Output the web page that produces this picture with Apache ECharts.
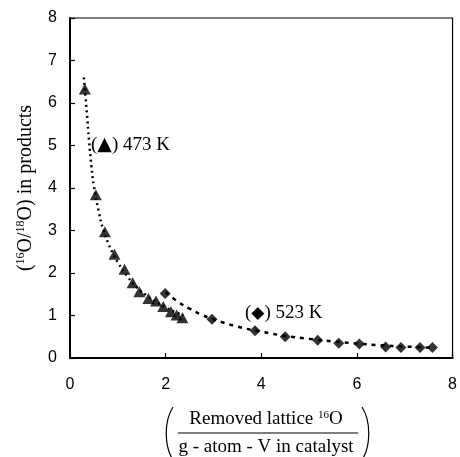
<!DOCTYPE html>
<html>
<head>
<meta charset="utf-8">
<script src="https://cdn.jsdelivr.net/npm/echarts@6/dist/echarts.min.js"></script>
<style>
  html, body { margin: 0; padding: 0; background: #ffffff; }
  #chart { width: 460px; height: 457px; }
</style>
</head>
<body>
<div id="chart"></div>
<script>
// Oxygen isotope ratio in products vs. removed lattice 16O per g-atom V
const tri473X = [0.31, 0.54, 0.73, 0.93, 1.14, 1.31, 1.45, 1.64, 1.80, 1.95, 2.11, 2.23, 2.35];
const tri473Y = [6.33, 3.84, 2.97, 2.44, 2.09, 1.77, 1.56, 1.40, 1.34, 1.21, 1.09, 1.01, 0.95];

const dia523X = [1.99, 2.97, 3.87, 4.50, 5.18, 5.62, 6.05, 6.60, 6.92, 7.32, 7.58];
const dia523Y = [1.52, 0.91, 0.64, 0.50, 0.42, 0.35, 0.33, 0.26, 0.25, 0.25, 0.25];

// dotted trend curves
const fit473X = [0.29, 0.35, 0.40, 0.45, 0.50, 0.60, 0.70, 0.80, 0.90, 1.00, 1.20, 1.40, 1.60, 1.80, 2.00, 2.20, 2.37];
const fit473Y = [6.60, 5.80, 5.10, 4.50, 4.05, 3.45, 3.00, 2.70, 2.45, 2.25, 1.92, 1.66, 1.47, 1.32, 1.19, 1.08, 1.00];
const fit523X = [2.00, 2.25, 2.50, 2.75, 3.00, 3.50, 4.00, 4.50, 5.00, 5.50, 6.00, 6.50, 7.00, 7.60];
const fit523Y = [1.55, 1.33, 1.16, 1.02, 0.91, 0.74, 0.62, 0.52, 0.45, 0.39, 0.34, 0.30, 0.27, 0.24];

const xTicks = { min: 0, max: 8, step: 2 };
const yTicks = { min: 0, max: 8, step: 1 };

const label473 = { text: ') 473 K', at: [0.44, 5.0], glyph: '▲' };
const label523 = { text: ') 523 K', at: [3.66, 1.05], glyph: '◆' };

const zip = (xs, ys) => xs.map((x, i) => [x, ys[i]]);

const serif = '"Liberation Serif", "Times New Roman", serif';
const sans = '"Liberation Sans", Arial, sans-serif';

const chart = echarts.init(document.getElementById('chart'));

const grid = { left: 70, top: 18, right: 4, bottom: 99 };

chart.setOption({
  animation: false,
  backgroundColor: '#ffffff',
  grid: Object.assign({ show: true, borderColor: '#000', borderWidth: 1.2, containLabel: false }, grid),
  xAxis: {
    type: 'value',
    min: xTicks.min, max: xTicks.max, interval: xTicks.step,
    axisLine: { lineStyle: { color: '#000', width: 2 } },
    axisTick: { inside: true, length: 5, lineStyle: { color: '#000', width: 1.2 } },
    axisLabel: { color: '#000', fontFamily: sans, fontSize: 16, margin: 19 },
    splitLine: { show: false }
  },
  yAxis: {
    type: 'value',
    min: yTicks.min, max: yTicks.max, interval: yTicks.step,
    axisLine: { lineStyle: { color: '#000', width: 2 } },
    axisTick: { inside: true, length: 5, lineStyle: { color: '#000', width: 1.2 } },
    axisLabel: { color: '#000', fontFamily: sans, fontSize: 16, margin: 13 },
    splitLine: { show: false },
    name: '({sup|16}O/{sup|18}O) in products',
    nameLocation: 'middle',
    nameRotate: 90,
    nameGap: 29,
    nameTextStyle: {
      color: '#000', fontFamily: serif, fontSize: 20, lineHeight: 22,
      rich: { sup: { fontFamily: serif, fontSize: 12, lineHeight: 22, verticalAlign: 'top', padding: [0, 0, 8, 0] } }
    }
  },
  series: [
    {
      type: 'line', data: zip(fit473X, fit473Y), showSymbol: false, smooth: true,
      lineStyle: { color: '#000', width: 2.5, type: [2, 3.5] }, z: 2
    },
    {
      type: 'line', data: zip(fit523X, fit523Y), showSymbol: false, smooth: true,
      lineStyle: { color: '#000', width: 2.5, type: [4, 5] }, z: 2
    },
    {
      type: 'scatter', data: zip(tri473X, tri473Y), symbol: 'triangle', symbolSize: [12, 11],
      itemStyle: { color: '#000' }, z: 3
    },
    {
      type: 'scatter', data: zip(dia523X, dia523Y), symbol: 'diamond', symbolSize: [11, 11],
      itemStyle: { color: '#000' }, z: 3
    }
  ]
});

// annotation labels and the fractional x-axis title
function annotation(lbl, glyphSize) {
  const p = chart.convertToPixel({ gridIndex: 0 }, lbl.at);
  return {
    type: 'text', x: p[0], y: p[1], z: 10,
    style: {
      text: '({g|' + lbl.glyph + '}' + lbl.text,
      fill: '#000', font: '19px ' + serif, verticalAlign: 'middle', align: 'left',
      rich: { g: { fontFamily: '"DejaVu Sans", sans-serif', fontSize: glyphSize, fill: '#000' } }
    }
  };
}

const cx = 266;
chart.setOption({
  graphic: [
    annotation(label473, 19),
    annotation(label523, 17),
    {
      type: 'text', x: cx, y: 419, z: 10,
      style: {
        text: 'Removed lattice {sup|16}O', fill: '#000', font: '19px ' + serif,
        align: 'center', verticalAlign: 'middle',
        rich: { sup: { fontFamily: serif, fontSize: 11, verticalAlign: 'top', padding: [0, 0, 8, 0] } }
      }
    },
    { type: 'line', shape: { x1: 178, y1: 433, x2: 358, y2: 433 }, style: { stroke: '#000', lineWidth: 1.2 } },
    {
      type: 'text', x: cx, y: 447, z: 10,
      style: { text: 'g - atom - V in catalyst', fill: '#000', font: '19px ' + serif, align: 'center', verticalAlign: 'middle' }
    },
    { type: 'bezierCurve', shape: { x1: 173, y1: 407, cpx1: 164, cpy1: 421, cpx2: 164, cpy2: 446, x2: 173, y2: 460 }, style: { stroke: '#000', lineWidth: 1.2, fill: null } },
    { type: 'bezierCurve', shape: { x1: 362, y1: 407, cpx1: 371, cpy1: 421, cpx2: 371, cpy2: 446, x2: 362, y2: 460 }, style: { stroke: '#000', lineWidth: 1.2, fill: null } }
  ]
});
</script>
</body>
</html>
